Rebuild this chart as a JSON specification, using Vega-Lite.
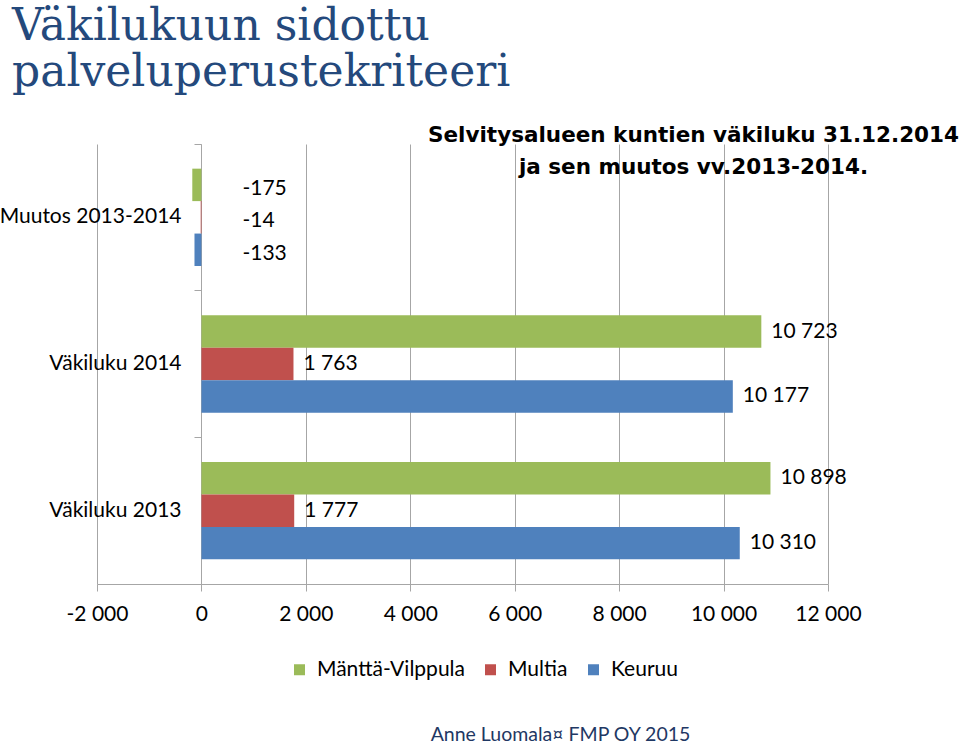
{
  "$schema": "https://vega.github.io/schema/vega-lite/v6.json",
  "width": 731,
  "height": 440,
  "autosize": {"type": "none"},
  "padding": {"left": 97, "top": 144, "right": 132, "bottom": 160},
  "background": "white",
  "config": {
    "locale": {"number": {"decimal": ",", "thousands": " ", "grouping": [3], "currency": ["", ""], "minus": "-"}},
    "view": {"stroke": null},
    "font": "Lato"
  },
  "title": {
    "text": ["Väkilukuun sidottu", "palveluperustekriteeri"],
    "anchor": "start",
    "frame": "group",
    "font": "DejaVu Serif",
    "fontSize": 44,
    "fontWeight": "normal",
    "color": "#24497c",
    "lineHeight": 46,
    "dx": -85,
    "dy": -25
  },
  "data": {
    "values": [
      {"cat": "Muutos 2013-2014", "series": "Mänttä-Vilppula", "value": -175},
      {"cat": "Muutos 2013-2014", "series": "Multia", "value": -14},
      {"cat": "Muutos 2013-2014", "series": "Keuruu", "value": -133},
      {"cat": "Väkiluku 2014", "series": "Mänttä-Vilppula", "value": 10723},
      {"cat": "Väkiluku 2014", "series": "Multia", "value": 1763},
      {"cat": "Väkiluku 2014", "series": "Keuruu", "value": 10177},
      {"cat": "Väkiluku 2013", "series": "Mänttä-Vilppula", "value": 10898},
      {"cat": "Väkiluku 2013", "series": "Multia", "value": 1777},
      {"cat": "Väkiluku 2013", "series": "Keuruu", "value": 10310}
    ]
  },
  "encoding": {
    "y": {
      "field": "cat",
      "type": "nominal",
      "sort": ["Muutos 2013-2014", "Väkiluku 2014", "Väkiluku 2013"],
      "scale": {"paddingInner": 0, "paddingOuter": 0},
      "axis": {
        "title": ["Selvitysalueen kuntien väkiluku 31.12.2014", "ja sen muutos vv.2013-2014."],
        "titleAngle": 0,
        "titleX": 492,
        "titleY": -20,
        "titleBaseline": "top",
        "titleAlign": "center",
        "titleFont": "DejaVu Sans",
        "titleFontSize": 21.5,
        "titleFontWeight": "bold",
        "titleColor": "#000000",
        "titleLineHeight": 32,
        "offset": -104,
        "bandPosition": 0,
        "labelOffset": 0,
        "labelLimit": 0,
        "tickSize": 7,
        "tickColor": "#a6a6a6",
        "domainColor": "#a6a6a6",
        "labelPadding": 13,
        "labelFontSize": 21,
        "labelColor": "#000000",
        "grid": false
      }
    },
    "yOffset": {
      "field": "series",
      "sort": ["Mänttä-Vilppula", "Multia", "Keuruu"],
      "scale": {"paddingInner": 0, "paddingOuter": 0.76}
    }
  },
  "layer": [
    {
      "mark": {"type": "bar"},
      "encoding": {
        "x": {
          "field": "value",
          "type": "quantitative",
          "scale": {"domain": [-2000, 12000], "nice": false, "zero": false},
          "axis": {
            "values": [-2000, 0, 2000, 4000, 6000, 8000, 10000, 12000],
            "format": ",d",
            "grid": true,
            "gridColor": "#a6a6a6",
            "domainColor": "#a6a6a6",
            "tickColor": "#a6a6a6",
            "tickSize": 7,
            "labelFontSize": 21,
            "labelPadding": 12,
            "labelColor": "#000000",
            "labelFlush": false,
            "labelOverlap": false,
            "title": "Anne Luomala¤ FMP OY 2015",
            "titleX": 463,
            "titleY": 150,
            "titleBaseline": "middle",
            "titleAlign": "center",
            "titleFontWeight": "normal",
            "titleFontSize": 19.5,
            "titleColor": "#1f3864"
          }
        },
        "color": {
          "field": "series",
          "type": "nominal",
          "scale": {"domain": ["Mänttä-Vilppula", "Multia", "Keuruu"], "range": ["#9bbb59", "#c0504d", "#4f81bd"]},
          "legend": {
            "orient": "none",
            "legendX": 192,
            "legendY": 515,
            "direction": "horizontal",
            "title": null,
            "symbolType": "square",
            "symbolSize": 121,
            "symbolStrokeWidth": 0,
            "labelFontSize": 21,
            "labelFont": "Lato",
            "labelColor": "#000000",
            "columnPadding": 15,
            "labelOffset": 7
          }
        }
      }
    },
    {
      "transform": [{"filter": "datum.value >= 0"}],
      "mark": {"type": "text", "align": "left", "baseline": "middle", "dx": 10, "fontSize": 21, "font": "Lato", "color": "#000000"},
      "encoding": {
        "x": {"field": "value", "type": "quantitative"},
        "text": {"field": "value", "type": "quantitative", "format": ",d"}
      }
    },
    {
      "transform": [{"filter": "datum.value < 0"}],
      "mark": {"type": "text", "align": "left", "baseline": "middle", "dx": 41, "dy": 4, "fontSize": 21, "font": "Lato", "color": "#000000"},
      "encoding": {
        "x": {"datum": 0, "type": "quantitative"},
        "text": {"field": "value", "type": "quantitative", "format": ",d"}
      }
    }
  ]
}
